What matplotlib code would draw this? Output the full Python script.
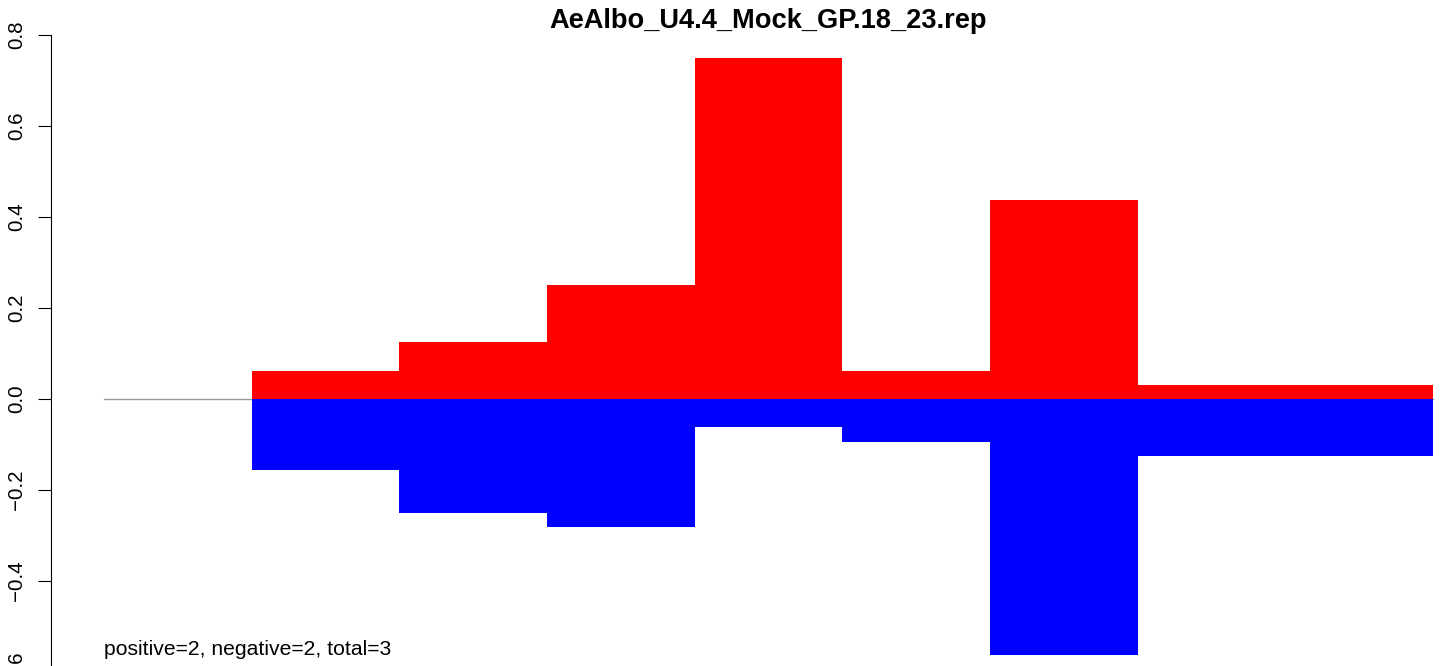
import matplotlib
matplotlib.use("Agg")
import matplotlib.pyplot as plt

plt.rcParams['font.family'] = ['Liberation Sans', 'DejaVu Sans']

# one value pair per bin (bin 0 is empty)
bins = [0, 1, 2, 3, 4, 5, 6, 7, 8]
positive = [0, 0.0625, 0.125, 0.25, 0.75, 0.0625, 0.4375, 0.03125, 0.03125]
negative = [0, -0.15625, -0.25, -0.28125, -0.0625, -0.09375, -0.5625, -0.125, -0.125]
yticks = [-0.6, -0.4, -0.2, 0.0, 0.2, 0.4, 0.6, 0.8]
title = "AeAlbo_U4.4_Mock_GP.18_23.rep"
note = "positive=2, negative=2, total=3"

fig = plt.figure(figsize=(14.44, 6.66), dpi=100)
# plot region runs off the right and bottom edges like the original
ax = fig.add_axes([51 / 1444, -12.8 / 666, 1435 / 1444, 644.9 / 666])

ax.plot([bins[0], bins[-1] + 1], [0, 0], color="#999999", lw=1, zorder=1)
ax.bar(bins, positive, width=1, align="edge", color="#ff0000", lw=0, zorder=2)
ax.bar(bins, negative, width=1, align="edge", color="#0000ff", lw=0, zorder=2)

ax.set_xlim(-0.36, 9.36)
ax.set_ylim(-0.615, 0.8025)

ax.set_yticks(yticks)
ax.set_yticklabels(["{:.1f}".format(t).replace("-", "\u2212") for t in yticks],
                   rotation=90, va="center", fontsize=14.8)
ax.tick_params(axis="y", length=9.5, width=0.8, pad=8.5)
ax.set_xticks([])
for side in ["top", "right", "bottom"]:
    ax.spines[side].set_visible(False)
ax.spines["left"].set_bounds(-0.6, 0.8)
ax.spines["left"].set_linewidth(0.8)

ax.set_title(title, fontsize=19.6, fontweight="bold", pad=4)
ax.text(bins[0], min(negative), note, fontsize=15.2, ha="left", va="baseline")

fig.savefig("out.png", dpi=100)
